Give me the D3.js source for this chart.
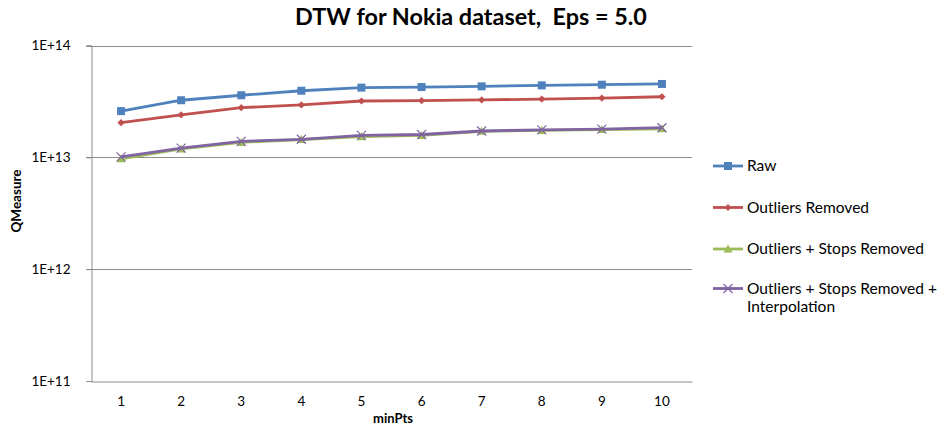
<!DOCTYPE html>
<html>
<head>
<meta charset="utf-8">
<script src="https://cdn.jsdelivr.net/npm/d3@7"></script>
<style>
  html, body { margin: 0; padding: 0; background: #fff; }
  svg { display: block; font-family: Lato, "Open Sans", "Liberation Sans", sans-serif; }
  text { white-space: pre; }
</style>
</head>
<body>
<svg id="chart" width="940" height="427"></svg>
<script>
// minPts values on the x axis
const categories = ["1", "2", "3", "4", "5", "6", "7", "8", "9", "10"];

// QMeasure per minPts for each preprocessing variant
const rawValues = [2.59e13, 3.24e13, 3.59e13, 3.94e13, 4.20e13, 4.25e13, 4.31e13, 4.40e13, 4.46e13, 4.53e13];
const outliersRemoved = [2.04e13, 2.40e13, 2.78e13, 2.94e13, 3.19e13, 3.21e13, 3.26e13, 3.32e13, 3.39e13, 3.48e13];
const stopsRemoved = [0.97e13, 1.19e13, 1.36e13, 1.44e13, 1.53e13, 1.57e13, 1.71e13, 1.74e13, 1.77e13, 1.80e13];
const stopsRemovedInterp = [1.01e13, 1.21e13, 1.39e13, 1.45e13, 1.57e13, 1.60e13, 1.72e13, 1.76e13, 1.79e13, 1.84e13];

const seriesNames = ["Raw", "Outliers Removed", "Outliers + Stops Removed", "Outliers + Stops Removed + Interpolation"];
const yTickValues = [1e11, 1e12, 1e13, 1e14];
const yTickLabels = ["1E+11", "1E+12", "1E+13", "1E+14"];

const series = [
  { name: seriesNames[0], values: rawValues, color: "#4F81BD", marker: "square" },
  { name: seriesNames[1], values: outliersRemoved, color: "#C0504D", marker: "diamond" },
  { name: seriesNames[2], values: stopsRemoved, color: "#9BBB59", marker: "triangle" },
  { name: seriesNames[3], values: stopsRemovedInterp, color: "#8064A2", marker: "cross" }
];

const svg = d3.select("#chart");
const plot = { left: 91, right: 692, top: 45.5, bottom: 381 };

const x = d3.scaleBand().domain(categories).range([plot.left, plot.right]);
const y = d3.scaleLog().domain([1e11, 1e14]).range([plot.bottom, plot.top]);
const cx = c => x(c) + x.bandwidth() / 2;

// Scale a text's font size so that its rendered width equals `width`
function fitWidth(textSel, width) {
  const node = textSel.node();
  const size = parseFloat(textSel.attr("font-size"));
  const len = node.getComputedTextLength();
  if (len > 0) textSel.attr("font-size", size * width / len);
}

// Title
const title = svg.append("text")
  .attr("x", 471).attr("y", 25)
  .attr("text-anchor", "middle")
  .attr("font-size", 20).attr("font-weight", "bold").attr("fill", "#000")
  .text("DTW for Nokia dataset,  Eps = 5.0");
fitWidth(title, 352);

// Horizontal gridlines
svg.append("g")
  .selectAll("line")
  .data(yTickValues.filter(v => v > 1e11))
  .join("line")
  .attr("x1", plot.left - 5).attr("x2", plot.right)
  .attr("y1", d => Math.round(y(d)) + 0.5).attr("y2", d => Math.round(y(d)) + 0.5)
  .attr("stroke", "#8c8c8c").attr("stroke-width", 1);

// Y axis
const yAxis = d3.axisLeft(y)
  .tickValues(yTickValues)
  .tickFormat((d, i) => yTickLabels[i])
  .tickSize(5).tickPadding(16);
const gy = svg.append("g").attr("transform", `translate(${plot.left + 0.5},0)`).call(yAxis);
gy.select(".domain").attr("stroke", "#8c8c8c");
gy.selectAll(".tick line").attr("stroke", "#8c8c8c");
gy.selectAll(".tick text").attr("font-size", 13.5).attr("fill", "#000")
  .attr("font-family", "Lato, 'Open Sans', sans-serif");

// X axis
const xAxis = d3.axisBottom(x).tickSize(0).tickPadding(15);
const gx = svg.append("g").attr("transform", `translate(0,${Math.round(plot.bottom) + 0.5})`).call(xAxis);
gx.select(".domain").attr("stroke", "#8c8c8c");
gx.selectAll(".tick text").attr("font-size", 13.5).attr("fill", "#000")
  .attr("font-family", "Lato, 'Open Sans', sans-serif");

// Axis titles
svg.append("text")
  .attr("x", 393).attr("y", 423)
  .attr("text-anchor", "middle")
  .attr("font-size", 13).attr("font-weight", "bold")
  .text("minPts");
svg.append("text")
  .attr("transform", "translate(21,201) rotate(-90)")
  .attr("text-anchor", "middle")
  .attr("font-size", 13.5).attr("font-weight", "bold")
  .text("QMeasure");

// Marker drawing
function drawMarker(sel, type, color) {
  if (type === "square") {
    sel.append("rect").attr("x", -4).attr("y", -4).attr("width", 8).attr("height", 8)
      .attr("fill", color);
  } else if (type === "diamond") {
    sel.append("path").attr("d", "M0,-3.6L3.6,0L0,3.6L-3.6,0Z").attr("fill", color);
  } else if (type === "triangle") {
    sel.append("path").attr("d", "M0,-4.5L4.5,3.5L-4.5,3.5Z").attr("fill", color);
  } else if (type === "cross") {
    sel.append("path").attr("d", "M-4.5,-4.5L4.5,4.5M-4.5,4.5L4.5,-4.5")
      .attr("stroke", color).attr("stroke-width", 1.2).attr("fill", "none");
  }
}

const line = d3.line().x((d, i) => cx(categories[i])).y(d => y(d));

series.forEach(s => {
  const g = svg.append("g");
  g.append("path")
    .datum(s.values)
    .attr("d", line)
    .attr("fill", "none")
    .attr("stroke", s.color)
    .attr("stroke-width", 2.8)
    .attr("stroke-linejoin", "round");
  g.selectAll("g.pt")
    .data(s.values)
    .join("g")
    .attr("class", "pt")
    .attr("transform", (d, i) => `translate(${cx(categories[i])},${y(d)})`)
    .each(function () { drawMarker(d3.select(this), s.marker, s.color); });
});

// Legend
const legendRows = [166, 207.5, 249, 288.5];
const legendTexts = [];
series.forEach((s, i) => {
  const g = svg.append("g").attr("transform", `translate(713,${legendRows[i]})`);
  g.append("line").attr("x1", 0).attr("x2", 30).attr("y1", 0).attr("y2", 0)
    .attr("stroke", s.color).attr("stroke-width", 2.8);
  const m = g.append("g").attr("transform", "translate(15,0)");
  drawMarker(m, s.marker, s.color);
  const t = g.append("text").attr("x", 34).attr("y", 5)
    .attr("font-size", 14).attr("fill", "#000");
  if (i === 3) {
    t.append("tspan").attr("x", 34).text("Outliers + Stops Removed +");
    t.append("tspan").attr("x", 34).attr("dy", 18).text("Interpolation");
  } else {
    t.text(s.name);
  }
  legendTexts.push(t);
});

// Size the legend font from its widest single line
const probe = svg.append("text").attr("font-size", 14).text("Outliers + Stops Removed +");
const legendSize = 14 * 190 / probe.node().getComputedTextLength();
probe.remove();
legendTexts.forEach(t => t.attr("font-size", legendSize));
</script>
</body>
</html>
